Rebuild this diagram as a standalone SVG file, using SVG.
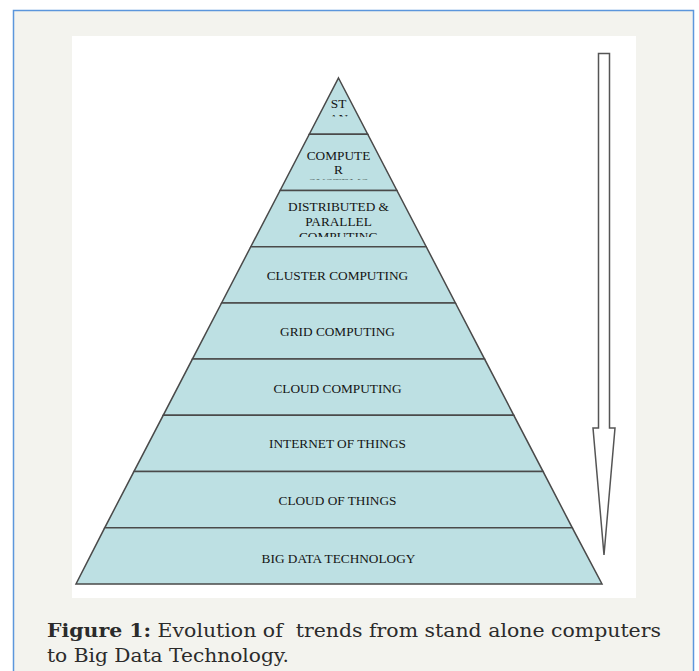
<svg xmlns="http://www.w3.org/2000/svg" width="699" height="671" viewBox="0 0 699 671">
<style>
  .layer { fill: #bde0e3; stroke: #4a4a4a; stroke-width: 1.5; stroke-linejoin: miter; }
  .lbl { font-family: "Liberation Serif", "Times New Roman", serif; font-size: 13.3px; fill: #141414; text-anchor: middle; }
  .cap { font-family: "DejaVu Serif", "Liberation Serif", serif; font-size: 18.5px; fill: #2b2b2b; }
</style>
<defs>
  <clipPath id="c1"><rect x="300" y="78" width="80" height="38.5"/></clipPath>
  <clipPath id="c2"><rect x="270" y="134" width="140" height="45.5"/></clipPath>
  <clipPath id="c3"><rect x="240" y="190" width="200" height="47"/></clipPath>
</defs>
<rect x="0" y="0" width="699" height="671" fill="#ffffff"/>
<rect x="13.5" y="10.5" width="680" height="680" fill="#f3f3ee" stroke="#5b96dc" stroke-width="1.5"/>
<rect x="72" y="36" width="564" height="562" fill="#ffffff"/>

<g id="layer1">
  <polygon class="layer" points="338.5,78 367.7,134.2 309.3,134.2"/>
  <g clip-path="url(#c1)">
    <text class="lbl" x="338.5" y="108">ST</text>
    <text class="lbl" x="338.5" y="122.5">AN</text>
  </g>
</g>
<g id="layer2">
  <polygon class="layer" points="309.3,134.2 367.7,134.2 396.9,190.4 280.1,190.4"/>
  <g clip-path="url(#c2)">
    <text class="lbl" x="338.5" y="159.5">COMPUTE</text>
    <text class="lbl" x="338.5" y="174">R</text>
    <text class="lbl" x="338.5" y="186.5">SYSTEMS</text>
  </g>
</g>
<g id="layer3">
  <polygon class="layer" points="280.1,190.4 396.9,190.4 426.2,246.7 250.8,246.7"/>
  <g clip-path="url(#c3)">
    <text class="lbl" x="338.5" y="211">DISTRIBUTED &amp;</text>
    <text class="lbl" x="338.5" y="225.5">PARALLEL</text>
    <text class="lbl" x="338.5" y="240.5">COMPUTING</text>
  </g>
</g>
<g id="layer4">
  <polygon class="layer" points="250.8,246.7 426.2,246.7 455.4,302.9 221.6,302.9"/>
  <text class="lbl" x="337.5" y="280">CLUSTER COMPUTING</text>
</g>
<g id="layer5">
  <polygon class="layer" points="221.6,302.9 455.4,302.9 484.6,359.1 192.4,359.1"/>
  <text class="lbl" x="337.5" y="336">GRID COMPUTING</text>
</g>
<g id="layer6">
  <polygon class="layer" points="192.4,359.1 484.6,359.1 513.8,415.3 163.2,415.3"/>
  <text class="lbl" x="337.5" y="392.5">CLOUD COMPUTING</text>
</g>
<g id="layer7">
  <polygon class="layer" points="163.2,415.3 513.8,415.3 543.1,471.6 133.9,471.6"/>
  <text class="lbl" x="337.5" y="448">INTERNET OF THINGS</text>
</g>
<g id="layer8">
  <polygon class="layer" points="133.9,471.6 543.1,471.6 572.3,527.8 104.7,527.8"/>
  <text class="lbl" x="337.5" y="504.5">CLOUD OF THINGS</text>
</g>
<g id="layer9">
  <polygon class="layer" points="104.7,527.8 572.3,527.8 602,584 76,584"/>
  <text class="lbl" x="338.5" y="563">BIG DATA TECHNOLOGY</text>
</g>

<g id="connectors">
  <polygon points="598.5,53.5 609.5,53.5 609.5,428 615,428 604,555 593,428 598.5,428" fill="#ffffff" stroke="#555555" stroke-width="1.5" stroke-linejoin="miter"/>
</g>

<text class="cap" x="47" y="637" textLength="614" lengthAdjust="spacingAndGlyphs" xml:space="preserve"><tspan font-weight="bold">Figure 1:</tspan> Evolution of  trends from stand alone computers</text>
<text class="cap" x="47" y="662" textLength="242" lengthAdjust="spacingAndGlyphs">to Big Data Technology.</text>
</svg>
